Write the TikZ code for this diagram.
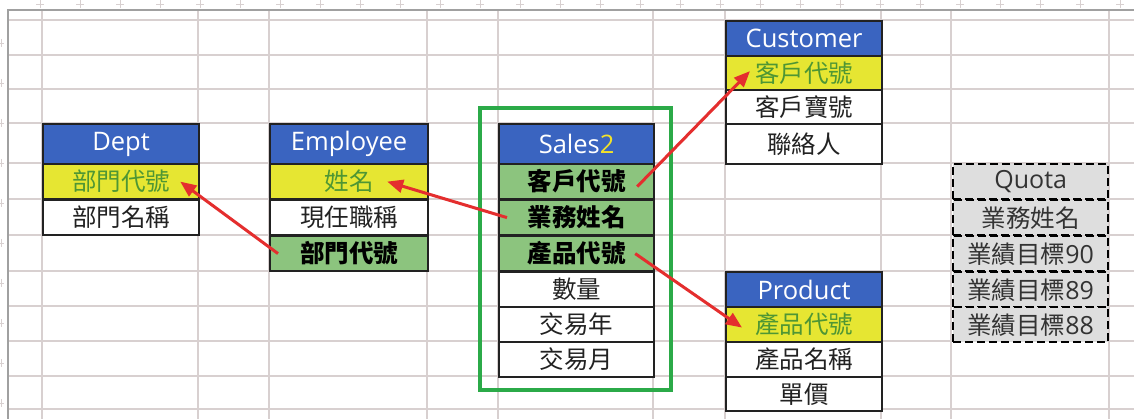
\documentclass[tikz,border=0pt]{standalone}
\usepackage{fontspec}
\setmainfont{Open Sans}
\newfontfamily\cjk{Noto Sans CJK TC}
\usetikzlibrary{arrows.meta,calc}
\definecolor{hdrblue}{HTML}{3A64C0}
\definecolor{keyyellow}{HTML}{E6E632}
\definecolor{keytext}{HTML}{4E9634}
\definecolor{fkgreen}{HTML}{8CC47E}
\definecolor{gridc}{HTML}{D8D0D0}
\definecolor{borderc}{HTML}{A0A0A0}
\definecolor{tline}{HTML}{222222}
\definecolor{salesbox}{HTML}{2BAA48}
\definecolor{arrowred}{HTML}{E42E2E}
\definecolor{quotafill}{HTML}{DEDEDE}
\definecolor{quotatext}{HTML}{333333}
\definecolor{twoyellow}{HTML}{F2E22A}
\tikzset{
  cellbase/.style={draw=tline, line width=2.2pt, anchor=north west, inner sep=0pt, minimum height=35pt},
  hdr/.style={cellbase, fill=hdrblue, text=white, minimum height=40pt, font=\fontsize{25.5}{30}\selectfont},
  keycell/.style={cellbase, fill=keyyellow, text=keytext, font=\cjk\fontsize{24.5}{28}\selectfont},
  fkcell/.style={cellbase, fill=fkgreen, text=black, font=\cjk\bfseries\fontsize{24.5}{28}\selectfont},
  plain/.style={cellbase, fill=white, text=tline, font=\cjk\fontsize{24.5}{28}\selectfont},
  qcell/.style={cellbase, draw=black, dash pattern=on 8pt off 4pt, line width=2.4pt, fill=quotafill, text=quotatext, font=\fontsize{25}{30}\selectfont},
  qcjk/.style={},
  rel/.style={draw=arrowred, line width=3pt, -{Triangle[length=16pt,width=13pt]}},
  gridline/.style={draw=gridc, line width=1.5pt},
  cropmark/.style={draw=gridc, line width=0.8pt}
}
\newcommand{\qc}[1]{{\cjk\fontsize{24.5}{28}\selectfont #1}}
\begin{document}
\begin{tikzpicture}[x=1pt,y=-1pt]
\useasboundingbox (0,0) rectangle (1134,419);
\fill[white] (0,0) rectangle (1134,419);
% crop marks
\foreach \i in {1,...,28} {\draw[cropmark] (40*\i-4,4) -- (40*\i+4,4) (40*\i,0) -- (40*\i,8);}
\foreach \j in {1,...,10} {\draw[cropmark] (0,40*\j+3) -- (4,40*\j+3) (1,40*\j-1) -- (1,40*\j+7);}
% spreadsheet grid
\foreach \yy in {20,55,89,123,163,199,235,271,306,341,376,409} {\draw[gridline] (8,\yy) -- (1134,\yy);}
\foreach \xx in {42,198,269,427,498,653,725,881,951,1109} {\draw[gridline] (\xx,10) -- (\xx,419);}
\draw[draw=borderc, line width=1.8pt] (8,419) -- (8,10) -- (1134,10);
% Sales group frame
\draw[draw=salesbox, line width=3.2pt] (480,108) rectangle (671,390);
% Dept
\node[hdr, minimum width=156pt] (dh) at (42,123) {Dept};
\node[keycell, minimum width=156pt] (d1) at (42,163) {部門代號};
\node[plain, minimum width=156pt] (d2) at (42,199) {部門名稱};
% Employee
\node[hdr, minimum width=158pt] (eh) at (269,123) {Employee};
\node[keycell, minimum width=158pt] (e1) at (269,163) {姓名};
\node[plain, minimum width=158pt] (e2) at (269,199) {現任職稱};
\node[fkcell, minimum width=158pt] (e3) at (269,235) {部門代號};
% Sales2
\node[hdr, minimum width=155pt] (sh) at (498,123) {Sales\textcolor{twoyellow}{2}};
\node[fkcell, minimum width=155pt] (s1) at (498,163) {客戶代號};
\node[fkcell, minimum width=155pt] (s2) at (498,199) {業務姓名};
\node[fkcell, minimum width=155pt] (s3) at (498,235) {產品代號};
\node[plain, minimum width=155pt] (s4) at (498,271) {數量};
\node[plain, minimum width=155pt] (s5) at (498,306) {交易年};
\node[plain, minimum width=155pt] (s6) at (498,341) {交易月};
% Customer
\node[hdr, minimum width=156pt, minimum height=35pt] (ch) at (725,20) {Customer};
\node[keycell, minimum width=156pt, minimum height=34pt] (c1) at (725,55) {客戶代號};
\node[plain, minimum width=156pt, minimum height=34pt] (c2) at (725,89) {客戶寶號};
\node[plain, minimum width=156pt, minimum height=40pt] (c3) at (725,123) {聯絡人};
% Product
\node[hdr, minimum width=156pt, minimum height=35pt] (ph) at (725,271) {Product};
\node[keycell, minimum width=156pt] (p1) at (725,306) {產品代號};
\node[plain, minimum width=156pt] (p2) at (725,341) {產品名稱};
\node[plain, minimum width=156pt, minimum height=34pt] (p3) at (725,376) {單價};
% Quota
\node[qcell, minimum width=155pt] (qh) at (952,163) {Quota};
\node[qcell, minimum width=155pt] (q1) at (952,199) {\qc{業務姓名}};
\node[qcell, minimum width=155pt] (q2) at (952,235) {\qc{業績目標}90};
\node[qcell, minimum width=155pt] (q3) at (952,271) {\qc{業績目標}89};
\node[qcell, minimum width=155pt] (q4) at (952,306) {\qc{業績目標}88};
% relationships
\draw[rel] ([xshift=9pt]e3.west) -- ([xshift=-20pt]d1.east);
\draw[rel] ([xshift=9pt]s2.west) -- ([xshift=-42pt]e1.east);
\draw[rel] ([xshift=-18pt,yshift=-5pt]s1.east) -- ([xshift=25pt,yshift=2pt]c1.west);
\draw[rel] ([xshift=-20pt]s3.east) -- ([xshift=17pt,yshift=-3pt]p1.west);
\end{tikzpicture}
\end{document}
